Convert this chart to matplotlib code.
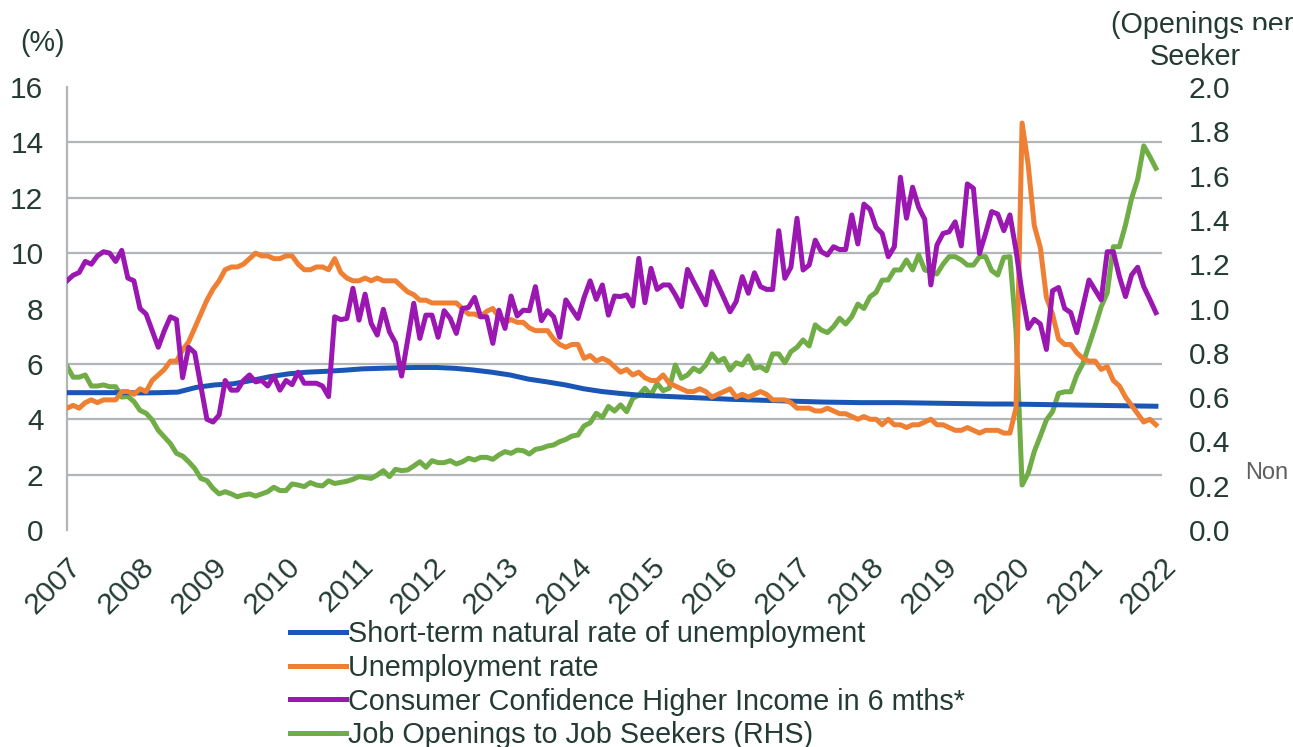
import numpy as np
import matplotlib

matplotlib.use("Agg")

import matplotlib.pyplot as plt
from matplotlib.patches import Rectangle
from matplotlib.ticker import MultipleLocator, FormatStrFormatter

plt.rcParams["font.family"] = ["Liberation Sans", "DejaVu Sans"]

# monthly, Mar 2007 .. Feb 2022
years = [str(y) for y in range(2007, 2023)]

unemployment_rate = [
    4.4, 4.5, 4.4, 4.6, 4.7, 4.6, 4.7, 4.7, 4.7, 5.0,
    5.0, 4.9, 5.1, 5.0, 5.4, 5.6, 5.8, 6.1, 6.1, 6.5, 6.8, 7.3,
    7.8, 8.3, 8.7, 9.0, 9.4, 9.5, 9.5, 9.6, 9.8, 10.0, 9.9, 9.9,
    9.8, 9.8, 9.9, 9.9, 9.6, 9.4, 9.4, 9.5, 9.5, 9.4, 9.8, 9.3,
    9.1, 9.0, 9.0, 9.1, 9.0, 9.1, 9.0, 9.0, 9.0, 8.8, 8.6, 8.5,
    8.3, 8.3, 8.2, 8.2, 8.2, 8.2, 8.2, 8.0, 7.8, 7.8, 7.7, 7.9,
    8.0, 7.7, 7.5, 7.6, 7.5, 7.5, 7.3, 7.2, 7.2, 7.2, 6.9, 6.7,
    6.6, 6.7, 6.7, 6.2, 6.3, 6.1, 6.2, 6.1, 5.9, 5.7, 5.8, 5.6,
    5.7, 5.5, 5.4, 5.4, 5.6, 5.3, 5.2, 5.1, 5.0, 5.0, 5.1, 5.0,
    4.8, 4.9, 5.0, 5.1, 4.8, 4.9, 4.8, 4.9, 5.0, 4.9, 4.7, 4.7,
    4.7, 4.6, 4.4, 4.4, 4.4, 4.3, 4.3, 4.4, 4.3, 4.2, 4.2, 4.1,
    4.0, 4.1, 4.0, 4.0, 3.8, 4.0, 3.8, 3.8, 3.7, 3.8, 3.8, 3.9,
    4.0, 3.8, 3.8, 3.7, 3.6, 3.6, 3.7, 3.6, 3.5, 3.6, 3.6, 3.6,
    3.5, 3.5, 4.4, 14.7, 13.2, 11.0, 10.2, 8.4, 7.8, 6.9, 6.7, 6.7,
    6.4, 6.2, 6.1, 6.1, 5.8, 5.9, 5.4, 5.2, 4.8, 4.5, 4.2, 3.9,
    4.0, 3.8,
]

# quarterly estimate
natural_rate = [
    4.96, 4.96, 4.96, 4.96, 4.95, 4.96, 4.98, 5.15, 5.24, 5.28,
    5.40, 5.54, 5.64, 5.70, 5.73, 5.77, 5.82, 5.84, 5.86, 5.87,
    5.87, 5.84, 5.78, 5.70, 5.60, 5.45, 5.35, 5.24, 5.10, 5.00,
    4.93, 4.87, 4.84, 4.81, 4.78, 4.75, 4.72, 4.70, 4.68, 4.66,
    4.64, 4.62, 4.61, 4.60, 4.60, 4.60, 4.59, 4.58, 4.57, 4.56,
    4.55, 4.55, 4.54, 4.53, 4.52, 4.51, 4.50, 4.49, 4.48, 4.47,
]

confidence_income = [
    9.0, 9.2, 9.3, 9.7, 9.6, 9.9, 10.05, 10.0, 9.7, 10.1,
    9.1, 9.0, 8.0, 7.8, 7.2, 6.6, 7.2, 7.7, 7.6, 5.5,
    6.6, 6.4, 5.2, 4.0, 3.9, 4.15, 5.4, 5.05, 5.05, 5.4,
    5.6, 5.35, 5.4, 5.2, 5.55, 5.05, 5.4, 5.25, 5.7, 5.3,
    5.3, 5.3, 5.2, 4.82, 7.7, 7.6, 7.64, 8.73, 7.58, 8.52,
    7.46, 7.04, 7.97, 7.16, 6.76, 5.56, 6.86, 8.19, 6.92, 7.76,
    7.76, 6.96, 7.92, 7.64, 7.1, 8.0, 8.04, 8.4, 7.7, 7.7,
    6.74, 7.94, 7.28, 8.45, 7.73, 7.94, 7.92, 8.79, 7.56, 7.92,
    7.7, 6.96, 8.31, 7.97, 7.64, 8.4, 9.0, 8.33, 8.85, 7.76,
    8.45, 8.43, 8.49, 8.09, 9.81, 8.21, 9.45, 8.69, 8.85, 8.85,
    8.49, 8.07, 9.41, 8.97, 8.55, 8.13, 9.33, 8.85, 8.37, 7.88,
    8.25, 9.15, 8.55, 9.29, 8.79, 8.69, 8.69, 10.81, 9.09, 9.49,
    11.26, 9.39, 9.57, 10.47, 10.05, 9.93, 10.23, 10.13, 10.13, 11.38,
    10.33, 11.77, 11.58, 10.93, 10.71, 9.87, 10.23, 12.74, 11.26, 12.38,
    11.65, 11.22, 8.85, 10.29, 10.71, 10.77, 11.13, 10.26, 12.5, 12.34,
    9.99, 10.71, 11.5, 11.41, 10.81, 11.38, 10.11, 8.55, 7.28, 7.61,
    7.44, 6.52, 8.64, 8.76, 8.0, 7.85, 7.13, 8.07, 9.03, 8.67,
    8.31, 10.05, 10.05, 9.15, 8.43, 9.21, 9.49, 8.79, 8.33, 7.85,
]

openings_per_seeker = [
    0.74, 0.69, 0.69, 0.70, 0.65, 0.65, 0.655, 0.647, 0.647, 0.60,
    0.603, 0.58, 0.54, 0.527, 0.497, 0.45, 0.42, 0.39, 0.346, 0.334,
    0.308, 0.278, 0.233, 0.223, 0.188, 0.163, 0.173, 0.163, 0.15, 0.158,
    0.163, 0.153, 0.163, 0.173, 0.193, 0.178, 0.178, 0.208, 0.203, 0.196,
    0.214, 0.203, 0.199, 0.222, 0.21, 0.215, 0.22, 0.229, 0.241, 0.237,
    0.233, 0.248, 0.268, 0.241, 0.274, 0.268, 0.271, 0.289, 0.308, 0.283,
    0.313, 0.304, 0.304, 0.313, 0.298, 0.308, 0.324, 0.316, 0.328, 0.328,
    0.319, 0.339, 0.354, 0.346, 0.361, 0.358, 0.343, 0.364, 0.369, 0.379,
    0.384, 0.399, 0.409, 0.424, 0.429, 0.47, 0.484, 0.527, 0.508, 0.558,
    0.537, 0.565, 0.534, 0.594, 0.609, 0.64, 0.609, 0.662, 0.629, 0.64,
    0.745, 0.685, 0.70, 0.73, 0.715, 0.745, 0.795, 0.76, 0.775, 0.722,
    0.755, 0.745, 0.786, 0.73, 0.737, 0.719, 0.795, 0.795, 0.755, 0.805,
    0.825, 0.858, 0.831, 0.926, 0.903, 0.891, 0.918, 0.956, 0.93, 0.963,
    1.02, 1.0, 1.053, 1.073, 1.128, 1.129, 1.174, 1.174, 1.219, 1.174,
    1.242, 1.174, 1.166, 1.156, 1.2, 1.234, 1.234, 1.219, 1.196, 1.196,
    1.234, 1.234, 1.171, 1.151, 1.231, 1.234, 0.9, 0.203, 0.256, 0.354,
    0.424, 0.497, 0.534, 0.617, 0.624, 0.624, 0.70, 0.752, 0.835, 0.918,
    1.008, 1.071, 1.279, 1.279, 1.377, 1.497, 1.583, 1.734, 1.686, 1.633,
]

BLUE = "#1a56b5"
ORANGE = "#ef8033"
PURPLE = "#9b17b2"
GREEN = "#70ad47"
TEXT = "#243b35"
GRID = "#b3b6b9"
FS = 20.7
TICK_FS = 21.5
LW = 3.6

months = np.arange(len(unemployment_rate))
quarters = np.linspace(0, months[-1], len(natural_rate))

fig = plt.figure(figsize=(12.93, 7.47), dpi=100)
ax2 = fig.add_axes([67 / 1293, 1 - 530 / 747, 1095 / 1293, 443 / 747])
ax = ax2.twinx()
ax2.yaxis.tick_right()
ax.yaxis.tick_left()
ax.set_zorder(ax2.get_zorder() + 1)
ax.patch.set_visible(False)

ax2.plot(months, openings_per_seeker, color=GREEN, lw=LW, solid_joinstyle="round",
         label="Job Openings to Job Seekers (RHS)")
ax.plot(quarters, natural_rate, color=BLUE, lw=LW, solid_joinstyle="round",
        label="Short-term natural rate of unemployment")
ax.plot(months, unemployment_rate, color=ORANGE, lw=LW, solid_joinstyle="round",
        label="Unemployment rate")
ax.plot(months, confidence_income, color=PURPLE, lw=LW, solid_joinstyle="round",
        label="Consumer Confidence Higher Income in 6 mths*")

ax.set_ylim(0, 16)
ax2.set_ylim(0, 2.0)
ax.set_xlim(0, 180)

ax.yaxis.set_major_locator(MultipleLocator(2))
ax2.yaxis.set_major_locator(MultipleLocator(0.2))
ax2.yaxis.set_major_formatter(FormatStrFormatter("%.1f"))
ax2.yaxis.set_minor_locator(MultipleLocator(0.25))
ax2.grid(True, which="minor", axis="y", color=GRID, lw=1.6)
ax2.tick_params(axis="y", which="minor", length=0)

ax.tick_params(axis="y", length=0, pad=17, labelsize=TICK_FS, labelcolor=TEXT)
ax2.tick_params(axis="y", which="major", length=0, pad=19, labelsize=TICK_FS, labelcolor=TEXT)

ax2.set_xticks(months[::12].tolist() + [180])
ax2.set_xticklabels(years, rotation=45, ha="right", va="top", rotation_mode="anchor")
ax2.tick_params(axis="x", length=0, pad=16, labelsize=TICK_FS, labelcolor=TEXT)
ax.tick_params(axis="x", length=0)

for a in (ax, ax2):
    for side in ("top", "right", "bottom"):
        a.spines[side].set_visible(False)
ax.spines["left"].set_visible(False)
ax2.spines["left"].set_color(GRID)
ax2.spines["left"].set_linewidth(1.6)

fig.text(20 / 1293, 1 - 43 / 747, "(%)", fontsize=FS, color=TEXT, va="center")
fig.text(1111 / 1293, 1 - 25 / 747, "(Openings per", fontsize=FS, color=TEXT, va="center")
fig.patches.append(Rectangle((1238 / 1293, 1 - 46 / 747), 60 / 1293, 16 / 747,
                             transform=fig.transFigure, facecolor="white",
                             edgecolor="none", zorder=5))
fig.text(1150 / 1293, 1 - 57 / 747, "Seeker", fontsize=FS, color=TEXT, va="center", zorder=6)
fig.text(1245 / 1293, 1 - 473 / 747, "Non", fontsize=17, color="#5f5f5f", va="center")

handles = ax.get_lines() + ax2.get_lines()
fig.legend(handles, [h.get_label() for h in handles], loc="upper left",
           bbox_to_anchor=(290 / 1293, 1 - 620 / 747), frameon=False,
           fontsize=FS, labelcolor=TEXT, handlelength=1.95, handletextpad=0.08,
           labelspacing=0.2, borderpad=0, borderaxespad=0)

fig.savefig("out.png", dpi=100)
